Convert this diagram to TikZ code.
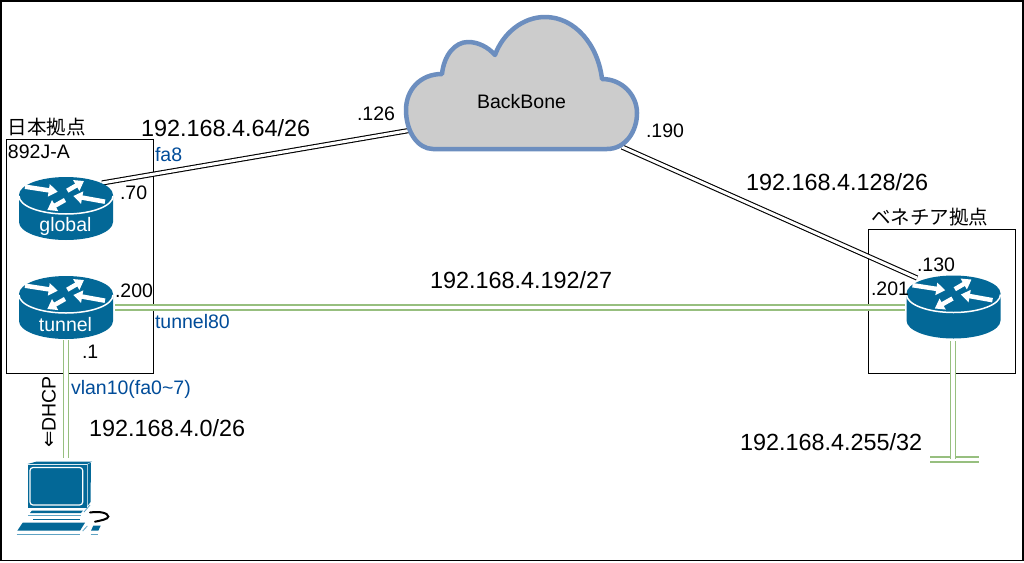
\documentclass[tikz,border=0pt]{standalone}
\usepackage{fontspec}
\setmainfont{Liberation Sans}
\newfontfamily\cjk{Noto Sans CJK JP}
\newfontfamily\djv{DejaVu Sans}
\usetikzlibrary{arrows.meta}
\definecolor{cisco}{HTML}{036897}
\definecolor{cisco2}{HTML}{5FA3C4}
\definecolor{linkgreen}{HTML}{97BF7F}
\definecolor{labelblue}{HTML}{004C99}
\definecolor{cloudedge}{HTML}{6C8EBF}
\tikzset{
  base/.style={inner sep=0pt,outer sep=0pt,black,font=\fontsize{19.5}{19.5}\selectfont},
  lab/.style={base,anchor=west},
  bluelab/.style={lab,text=labelblue},
  net/.style={lab,font=\fontsize{23.4}{23.4}\selectfont},
  jp/.style={lab,font=\fontsize{19.5}{19.5}\selectfont\cjk},
  inname/.style={base,text=white},
  sitebox/.style={draw=black,line width=1.2pt},
  blacklink/.style={draw=black,line width=1.1pt,double=white,double distance=3pt},
  greenlink/.style={draw=linkgreen,line width=1.5pt,double=white,double distance=3.5pt},
  stub/.style={draw=linkgreen,line width=2pt,double=white,double distance=3pt},
  arr/.style={draw=white,line width=4.5pt,-{Triangle[width=12pt,length=9pt]}},
  router/.pic={
    \fill[cisco] (-47,0) -- (-47,27) .. controls (-47,37) and (-26,45) .. (0,45)
       .. controls (26,45) and (47,37) .. (47,27) -- (47,0)
       .. controls (47,-10) and (26,-18) .. (0,-18)
       .. controls (-26,-18) and (-47,-10) .. (-47,0) -- cycle;
    \draw[white,line width=1.5pt] (-47,1) .. controls (-47,11) and (-26,19) .. (0,19)
       .. controls (26,19) and (47,11) .. (47,1);
    \draw[arr] (-41,-8.3) -- (-8.3,-3.3);
    \draw[arr] (1.3,-4.3) -- (18,-14);
    \draw[arr] (39,6.7) -- (7.3,1);
    \draw[arr] (-1,5) -- (-18.7,15);
  }
}
\begin{document}
\begin{tikzpicture}[x=1pt,y=-1pt]
\useasboundingbox (0,0) rectangle (1024,562);
\fill[white] (0,0) rectangle (1024,562);
\draw[black,line width=1.5pt] (0.8,0.8) rectangle (1023.2,560.5);

% site boxes
\node[sitebox,minimum width=147.5pt,minimum height=233.5pt,inner sep=0pt,anchor=north west] (japan) at (5.5,139) {};
\node[sitebox,minimum width=147pt,minimum height=143.5pt,inner sep=0pt,anchor=north west] (venezia) at (868,229) {};

% link end points
\coordinate (globalport) at (102,183);
\coordinate (cloudleft) at (409,130.5);
\coordinate (cloudright) at (622,147);
\coordinate (vport130) at (917,278);
\coordinate (tunnelport) at (115,307.5);
\coordinate (vport201) at (905,307.5);
\coordinate (tunneldown) at (65.8,340);
\coordinate (pctop) at (65.8,458);
\coordinate (vdown) at (953,341);
\coordinate (stubcentre) at (953,459.2);
\coordinate (stubleft) at (930,459.2);
\coordinate (stubright) at (979,459.2);

% links
\draw[blacklink] (globalport) -- (cloudleft);
\draw[blacklink] (cloudright) -- (vport130);
\draw[greenlink] (tunnelport) -- (vport201);
\draw[greenlink] (tunneldown) -- (pctop);
\draw[stub] (stubleft) -- (stubright);
\draw[greenlink] (vdown) -- (stubcentre);

% cloud
\draw[draw=cloudedge,fill=black!20,line width=4.5pt,line join=round]
  (433,149) -- (607,149) .. controls (625,149) and (637,132) .. (637,113)
  .. controls (637,95) and (622,79) .. (602,79)
  .. controls (598,45) and (575,17) .. (545,17)
  .. controls (523,17) and (503,33) .. (495,55)
  .. controls (488,47) and (478,42) .. (468,42)
  .. controls (455,42) and (444,55) .. (442,74)
  .. controls (420,74) and (406,90) .. (406,110)
  .. controls (406,132) and (418,149) .. (433,149) -- cycle;
\node[base] (backbone) at (521.5,102) {BackBone};

% routers
\pic at (66,195) {router};
\pic at (66,294) {router};
\pic at (953.5,293.5) {router};
\node[inname] (globalname) at (65.5,226) {global};
\node[inname] (tunnelname) at (65.5,324.5) {tunnel};

% PC
\fill[cisco] (37,461.5) -- (92,461.5) -- (87,464) -- (27.5,464) -- cycle;
\fill[cisco] (27.5,464.5) rectangle (86.5,508);
\fill[cisco] (87.5,464.5) -- (91,462.5) -- (90.5,502) -- (87.5,506) -- cycle;
\draw[white,line width=1.2pt,rounded corners=3pt] (30,467.5) rectangle (82.7,505);
\fill[cisco] (32,510.5) -- (83,510.5) -- (81,513) -- (30,513) -- cycle;
\draw[cisco2,line width=1pt] (28,515.5) -- (81,515.5);
\draw[cisco,line width=1.2pt] (33,519.5) -- (80,519.5);
\fill[cisco] (22.7,522.7) -- (85,522.7) -- (80,530.7) -- (17.3,530.7) -- cycle;
\draw[cisco2,line width=1pt] (16.7,534) -- (80,534);
\draw[cisco2,line width=0.8pt] (82.7,531) -- (87.3,526);
\draw[cisco2,line width=0.8pt] (84,512) -- (90,505);
\fill[cisco] (93.3,525.7) -- (100.7,525.7) -- (98.3,530.7) -- (91,530.7) -- cycle;
\draw[cisco2,line width=1pt] (90.7,534.3) -- (97.7,534.3);
\draw[black,line width=2pt,line cap=round] (90,512.5) .. controls (100,511) and (108,513) .. (108.3,516.5) .. controls (108.5,519) and (101,520.5) .. (95,521.7);

% labels
\node[jp] (jplabel) at (8,127) {日本拠点};
\node[net] (net64) at (141,128) {192.168.4.64/26};
\node[lab] (hostname) at (8,152) {892J-A};
\node[bluelab] (fa8) at (155,155) {fa8};
\node[lab] (a70) at (120,193) {.70};
\node[lab] (a200) at (115,291) {.200};
\node[lab] (a1) at (82,352) {.1};
\node[bluelab] (tun80) at (155,322) {tunnel80};
\node[bluelab] (vlan) at (71,389) {vlan10(fa0\char"007E 7)};
\node[net] (net0) at (89,428) {192.168.4.0/26};
\node[base,rotate=90] (dhcp) at (49,412) {{\djv ⇐}DHCP};
\node[lab] (a126) at (357,114) {.126};
\node[lab] (a190) at (646,131) {.190};
\node[net] (net128) at (746,182) {192.168.4.128/26};
\node[net] (net192) at (430,280) {192.168.4.192/27};
\node[jp] (velabel) at (871,217) {ベネチア拠点};
\node[lab] (a130) at (917,265) {.130};
\node[lab] (a201) at (871,289) {.201};
\node[net] (net255) at (740,442) {192.168.4.255/32};
\end{tikzpicture}
\end{document}
